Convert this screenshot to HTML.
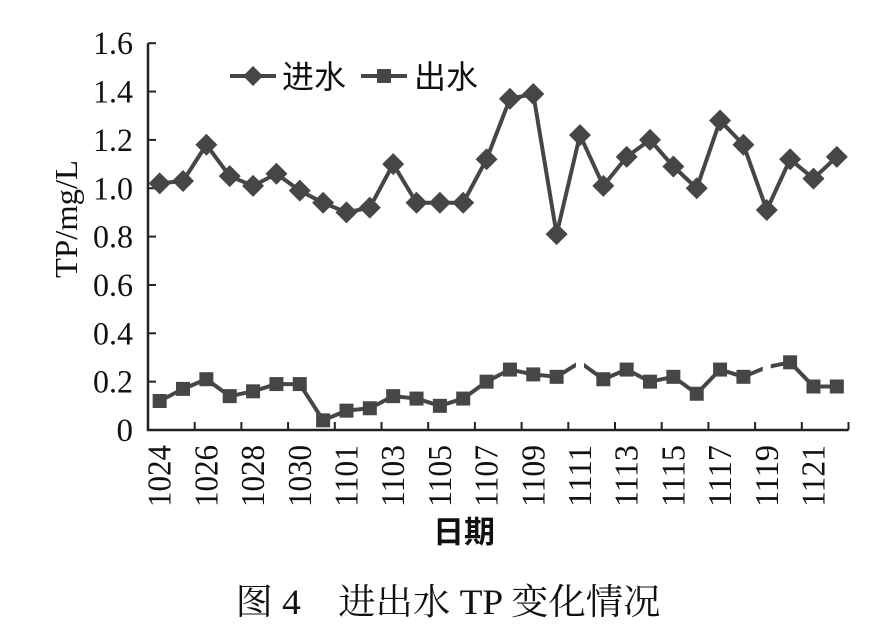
<!DOCTYPE html>
<html><head><meta charset="utf-8"><style>
html,body{margin:0;padding:0;background:#fff;}
svg{display:block}
text{font-family:"Liberation Serif","Noto Serif CJK SC",serif;fill:#111}
</style></head><body>
<svg width="884" height="630" viewBox="0 0 884 630" xmlns="http://www.w3.org/2000/svg">
<rect width="884" height="630" fill="#fff"/>
<g id="g"></g>
</svg>
<script>
const NS="http://www.w3.org/2000/svg";
const g=document.getElementById('g');
function el(t,a,txt){const e=document.createElementNS(NS,t);for(const k in a)e.setAttribute(k,a[k]);if(txt!=null)e.textContent=txt;g.appendChild(e);return e;}
const X0=148,Y0=430,DY=48.35/0.2,W=23.35;
const cx=i=>X0+W*(i+0.5), cy=v=>Y0-v*DY;
el('path',{d:`M${X0},${cy(1.6)} V${Y0} H${X0+W*30}`,stroke:'#222','stroke-width':2.5,fill:'none'});
for(let k=1;k<=8;k++){const y=cy(k*0.2);el('line',{x1:X0,x2:X0+8,y1:y,y2:y,stroke:'#222','stroke-width':2});}
const yl=['0','0.2','0.4','0.6','0.8','1.0','1.2','1.4','1.6'];
yl.forEach((s,k)=>{const a={x:133,y:cy(k*0.2)+11,'text-anchor':'end','font-size':33};if(s.length==3){a.textLength=40;a.lengthAdjust='spacingAndGlyphs';}el('text',a,s);});
for(let k=1;k<=15;k++){const x=X0+2*W*k;el('line',{x1:x,x2:x,y1:Y0,y2:Y0-8,stroke:'#222','stroke-width':2});}
const xl=['1024','1026','1028','1030','1101','1103','1105','1107','1109','1111','1113','1115','1117','1119','1121'];
xl.forEach((s,k)=>{const x=cx(2*k)+11;el('text',{x:0,y:0,'font-size':34,'text-anchor':'end',textLength:62,lengthAdjust:'spacingAndGlyphs',transform:`translate(${x},445) rotate(-90)`},s);});
el('text',{x:0,y:0,'font-size':32,'text-anchor':'middle',textLength:118,lengthAdjust:'spacingAndGlyphs',transform:`translate(77,219) rotate(-90)`},'TP/mg/L');
el('text',{x:464,y:543,'font-size':31,'font-weight':'bold','text-anchor':'middle',style:'font-family:"Liberation Sans","Noto Sans CJK SC",sans-serif'},'日期');
el('text',{x:448,y:614,'font-size':36,'text-anchor':'middle',textLength:425,lengthAdjust:'spacingAndGlyphs'},'图 4　进出水 TP 变化情况');
const inl=[1.02,1.03,1.18,1.05,1.01,1.06,0.99,0.94,0.90,0.92,1.10,0.94,0.94,0.94,1.12,1.37,1.39,0.81,1.22,1.01,1.13,1.20,1.09,1.00,1.28,1.18,0.91,1.12,1.04,1.13];
const out=[0.12,0.17,0.21,0.14,0.16,0.19,0.19,0.04,0.08,0.09,0.14,0.13,0.10,0.13,0.20,0.25,0.23,0.22,0.28,0.21,0.25,0.20,0.22,0.15,0.25,0.22,0.26,0.28,0.18,0.18];
const col='#464646';
el('polyline',{points:inl.map((v,i)=>cx(i)+','+cy(v)).join(' '),fill:'none',stroke:col,'stroke-width':4,'stroke-linejoin':'round'});
el('polyline',{points:out.map((v,i)=>cx(i)+','+cy(v)).join(' '),fill:'none',stroke:col,'stroke-width':4,'stroke-linejoin':'round'});
[18,26].forEach(i=>{el('rect',{x:cx(i)-4,y:cy(out[i])-12,width:8,height:24,fill:'#fff'});});
inl.forEach((v,i)=>{const x=cx(i),y=cy(v);el('path',{d:`M${x},${y-11} L${x+11},${y} L${x},${y+11} L${x-11},${y}Z`,fill:col});});
out.forEach((v,i)=>{if(i==18||i==26)return;el('rect',{x:cx(i)-7,y:cy(v)-7,width:14,height:14,fill:col});});
el('line',{x1:230,x2:276,y1:76,y2:76,stroke:col,'stroke-width':4});
el('path',{d:'M253,66 L263,76 L253,86 L243,76Z',fill:col});
el('text',{x:282,y:88,'font-size':32,style:'font-family:"Liberation Sans","Noto Sans CJK SC",sans-serif'},'进水');
el('line',{x1:361,x2:407,y1:76,y2:76,stroke:col,'stroke-width':4});
el('rect',{x:377,y:69,width:14,height:14,fill:col});
el('text',{x:414,y:88,'font-size':32,style:'font-family:"Liberation Sans","Noto Sans CJK SC",sans-serif'},'出水');
</script>
</body></html>
